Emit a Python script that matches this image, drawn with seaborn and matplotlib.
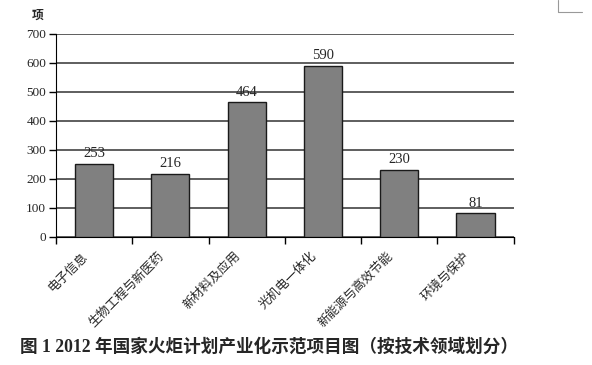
import matplotlib
matplotlib.use('Agg')
import matplotlib.pyplot as plt
import matplotlib.transforms as mtransforms
import seaborn as sns
import pandas as pd
from matplotlib.ticker import FixedLocator

categories = ['电子信息', '生物工程与新医药', '新材料及应用', '光机电一体化', '新能源与高效节能', '环境与保护']
values = [253, 216, 464, 590, 230, 81]
y_ticks = [0, 100, 200, 300, 400, 500, 600, 700]

sns.set_style('white')
plt.rcParams['font.family'] = ['Liberation Serif', 'Noto Sans CJK SC']
cjk = ['Noto Sans CJK SC', 'DejaVu Sans']

df = pd.DataFrame({'cat': categories, 'val': values})

fig = plt.figure(figsize=(5.92, 3.65), dpi=100)
ax = fig.add_axes([0.0946, 0.351, 0.773, 0.556])
sns.barplot(data=df, x='cat', y='val', color='#808080', edgecolor='#1a1a1a',
            linewidth=1.0, width=0.5, saturation=1, ax=ax, zorder=3)

ax.set_ylim(0, 700)
ax.set_xlim(-0.5, len(categories) - 0.5)
ax.set_yticks(y_ticks)
ax.yaxis.grid(True, color='#333333', linewidth=1.1, zorder=0)
ax.set_axisbelow(True)
for s in ['top', 'right']:
    ax.spines[s].set_visible(False)
ax.spines['left'].set_color('black')
ax.spines['bottom'].set_color('black')
ax.tick_params(axis='y', length=5, width=1, color='black', labelsize=9.5, pad=2, left=True)

ax.set_xticks(range(len(categories)))
ax.set_xticklabels(categories, rotation=45, ha='right', rotation_mode='anchor',
                   family=cjk, fontsize=9)
ax.tick_params(axis='x', which='major', length=0, pad=9)
shift = mtransforms.ScaledTranslation(-13 / 100, 0, fig.dpi_scale_trans)
for lab in ax.get_xticklabels():
    lab.set_transform(lab.get_transform() + shift)
ax.xaxis.set_minor_locator(FixedLocator([i - 0.5 for i in range(len(categories) + 1)]))
ax.tick_params(axis='x', which='minor', length=5, width=1, color='black', bottom=True)
ax.set_xlabel('')
ax.set_ylabel('')

for i, v in enumerate(values):
    ax.text(i, v + 13, str(v), ha='center', va='bottom', fontsize=10.5)

fig.text(0.064, 0.958, '项', family=cjk, fontsize=8.5, fontweight='bold', ha='center', va='center')
fig.text(0.034, 0.05, '图 1 2012 年国家火炬计划产业化示范项目图（按技术领域划分）',
         family=['Liberation Serif', 'Noto Sans CJK SC'], fontsize=12.7,
         fontweight='bold', ha='left', va='center')

# small corner mark at top right
fig.add_artist(plt.Line2D([0.943, 0.943, 0.983], [1.0, 0.967, 0.967], color='#999999', linewidth=0.8))

fig.savefig('out.png', dpi=100)
